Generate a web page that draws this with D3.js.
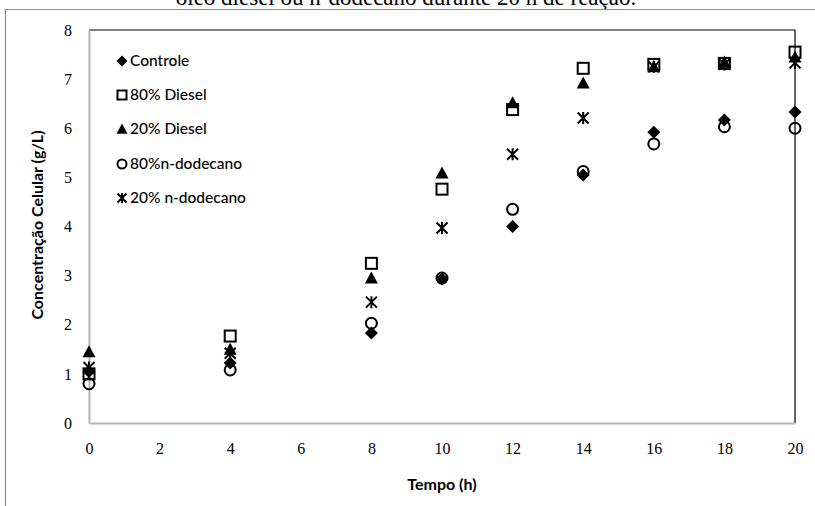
<!DOCTYPE html>
<html>
<head>
<meta charset="utf-8">
<script src="https://cdn.jsdelivr.net/npm/d3@7"></script>
<style>
  html, body { margin: 0; padding: 0; background: #fff; }
  svg { display: block; }
</style>
</head>
<body>
<svg id="chart" width="815" height="506"></svg>
<script>
// Sampling times (h)
const times = [0, 4, 8, 10, 12, 14, 16, 18, 20];

// Cell concentration (g/L) per treatment
const controle     = [1.05, 1.22, 1.83, 2.93, 4.00, 5.05, 5.92, 6.17, 6.33];
const diesel80     = [1.00, 1.77, 3.25, 4.76, 6.38, 7.22, 7.30, 7.32, 7.55];
const diesel20     = [1.45, 1.50, 2.95, 5.09, 6.52, 6.92, 7.25, 7.35, 7.45];
const dodecano80   = [0.80, 1.08, 2.03, 2.95, 4.35, 5.12, 5.68, 6.03, 6.00];
const dodecano20   = [1.13, 1.42, 2.46, 3.97, 5.47, 6.21, 7.25, 7.30, 7.33];

const seriesNames = ["Controle", "80% Diesel", "20% Diesel", "80%n-dodecano", "20% n-dodecano"];
const seriesValues = [controle, diesel80, diesel20, dodecano80, dodecano20];
const seriesShapes = ["diamond", "square", "triangle", "circle", "star"];

const xTicks = [0, 2, 4, 6, 8, 10, 12, 14, 16, 18, 20];
const yTicks = [0, 1, 2, 3, 4, 5, 6, 7, 8];

const svg = d3.select("#chart");

// Caption line running off the top edge, and the outer frame
svg.append("text")
  .attr("x", 406).attr("y", 5)
  .attr("text-anchor", "middle")
  .style("font-family", "'Liberation Serif', 'Times New Roman', serif")
  .style("font-size", "23px")
  .attr("fill", "#000")
  .text("óleo diesel ou n-dodecano durante 20 h de reação.");
svg.append("path")
  .attr("d", "M5.5,506 V9.5 H815")
  .attr("fill", "none").attr("stroke", "#8a8a8a").attr("stroke-width", 1.2);

const x = d3.scaleLinear().domain([0, 20]).range([89, 795]);
const y = d3.scaleLinear().domain([0, 8]).range([423, 30]);

// Plot border: black top/right, grey axes left/bottom
svg.append("path")
  .attr("d", `M${x(0)},${y(8)} H${x(20)} V${y(0)}`)
  .attr("fill", "none").attr("stroke", "#000").attr("stroke-width", 1.2);

const xAxis = svg.append("g")
  .attr("transform", `translate(0,${y(0)})`)
  .call(d3.axisBottom(x).tickValues(xTicks).tickSize(0).tickPadding(20).tickFormat(d3.format("d")));
const yAxis = svg.append("g")
  .attr("transform", `translate(${x(0)},0)`)
  .call(d3.axisLeft(y).tickValues(yTicks).tickSize(0).tickPadding(17).tickFormat(d3.format("d")));

[xAxis, yAxis].forEach(g => {
  g.select(".domain").attr("stroke", "#b4b4b4").attr("stroke-width", 2);
  g.selectAll("text")
    .style("font-family", "'Liberation Serif', 'Times New Roman', serif")
    .style("font-size", "16px")
    .attr("fill", "#000");
});

// Axis titles
svg.append("text")
  .attr("x", 442).attr("y", 490)
  .attr("text-anchor", "middle")
  .style("font-family", "Lato, 'Open Sans', sans-serif")
  .style("font-size", "16px").style("font-weight", "bold")
  .text("Tempo (h)");
svg.append("text")
  .attr("transform", "translate(43,225) rotate(-90)")
  .attr("text-anchor", "middle")
  .style("font-family", "Lato, 'Open Sans', sans-serif")
  .style("font-size", "16px").style("font-weight", "bold")
  .text("Concentração Celular (g/L)");

// Marker drawing
function drawMarker(g, shape, cx, cy, s) {
  const h = s / 2;
  if (shape === "diamond") {
    g.append("path")
      .attr("d", `M${cx},${cy - h} L${cx + h},${cy} L${cx},${cy + h} L${cx - h},${cy} Z`)
      .attr("fill", "#000");
  } else if (shape === "square") {
    const a = h - 1;
    g.append("rect")
      .attr("x", cx - a).attr("y", cy - a).attr("width", 2 * a).attr("height", 2 * a)
      .attr("fill", "none").attr("stroke", "#000").attr("stroke-width", 2);
  } else if (shape === "triangle") {
    g.append("path")
      .attr("d", `M${cx},${cy - h} L${cx + h},${cy + h * 0.85} L${cx - h},${cy + h * 0.85} Z`)
      .attr("fill", "#000");
  } else if (shape === "circle") {
    g.append("circle")
      .attr("cx", cx).attr("cy", cy).attr("r", h - 1)
      .attr("fill", "none").attr("stroke", "#000").attr("stroke-width", 2);
  } else if (shape === "star") {
    const a = h - 1;
    g.append("path")
      .attr("d", `M${cx - a},${cy - a} L${cx + a},${cy + a} M${cx + a},${cy - a} L${cx - a},${cy + a} M${cx},${cy - a - 0.5} L${cx},${cy + a + 0.5}`)
      .attr("fill", "none").attr("stroke", "#000").attr("stroke-width", 2);
  }
}

const marks = svg.append("g");
seriesValues.forEach((vals, i) => {
  const g = marks.append("g").attr("class", "series");
  vals.forEach((v, j) => drawMarker(g, seriesShapes[i], x(times[j]), y(v), 13));
});

// Legend
const legendY = [61, 95, 129, 164, 198];
const legend = svg.append("g");
seriesNames.forEach((name, i) => {
  drawMarker(legend, seriesShapes[i], 122, legendY[i], 11);
  legend.append("text")
    .attr("x", 130).attr("y", legendY[i]).attr("dy", "0.35em")
    .style("font-family", "Lato, 'Open Sans', sans-serif")
    .style("font-size", "15.5px").style("font-weight", "500")
    .attr("fill", "#000")
    .text(name);
});
</script>
</body>
</html>
